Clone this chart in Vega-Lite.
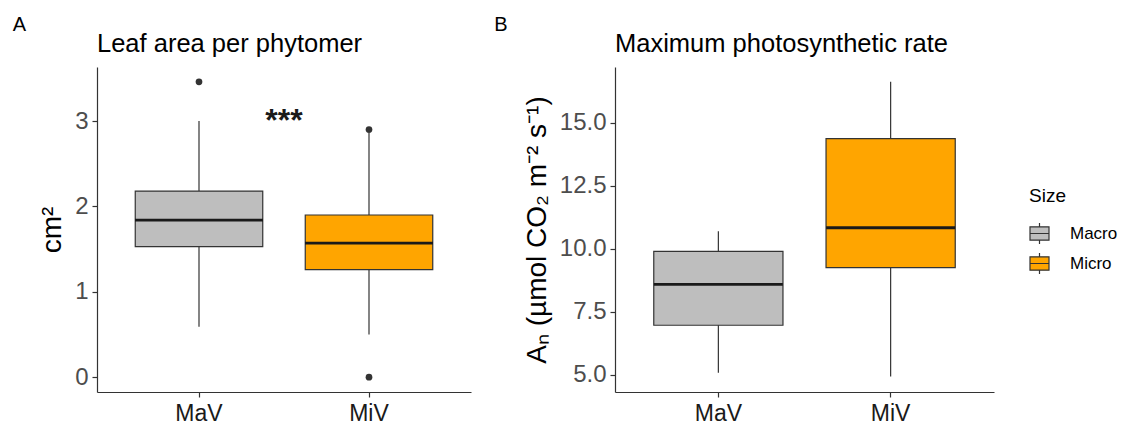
{
  "$schema": "https://vega.github.io/schema/vega-lite/v6.json",
  "background": "white",
  "padding": {"left": 12, "top": 14, "right": 0, "bottom": 0},
  "config": {
    "font": "Liberation Sans",
    "view": {"stroke": null},
    "axis": {"grid": false, "domainColor": "#333333", "tickColor": "#333333", "domainWidth": 1.2, "tickWidth": 1.2, "tickSize": 5, "labelColor": "#4D4D4D", "titleColor": "#000000", "titleFontWeight": "normal"},
    "title": {"fontWeight": "normal", "color": "#000000", "anchor": "start"},
    "concat": {"spacing": 23}
  },
  "datasets": {
    "leafBox": [
      {"Group": "MaV", "Size": "Macro", "lower": 0.59, "q1": 1.53, "median": 1.84, "q3": 2.18, "upper": 3.0},
      {"Group": "MiV", "Size": "Micro", "lower": 0.5, "q1": 1.26, "median": 1.57, "q3": 1.9, "upper": 2.86}
    ],
    "leafOut": [
      {"Group": "MaV", "value": 3.46},
      {"Group": "MiV", "value": 2.9},
      {"Group": "MiV", "value": 0.0}
    ],
    "star": [{"pos": 1.5, "value": 3.06, "label": "***"}],
    "photoBox": [
      {"Group": "MaV", "Size": "Macro", "lower": 5.07, "q1": 6.96, "median": 8.58, "q3": 9.89, "upper": 10.69},
      {"Group": "MiV", "Size": "Micro", "lower": 4.93, "q1": 9.25, "median": 10.83, "q3": 14.37, "upper": 16.62}
    ]
  },
  "resolve": {"scale": {"fill": "shared"}, "legend": {"fill": "shared"}},
  "hconcat": [
    {
      "title": {"text": "A", "fontSize": 20, "frame": "bounds", "dx": -26, "dy": 7, "offset": 4},
      "vconcat": [
        {
          "width": 374,
          "height": 325,
          "title": {"text": "Leaf area per phytomer", "fontSize": 25.5, "offset": 10, "frame": "group"},
          "resolve": {"scale": {"x": "independent"}},
          "layer": [
            {
              "encoding": {
                "x": {"field": "Group", "type": "nominal", "sort": ["MaV", "MiV"],
                      "scale": {"paddingInner": 0.25, "paddingOuter": 0.225},
                      "axis": {"title": null, "labelAngle": 0, "labelFontSize": 23, "labelColor": "#1a1a1a", "labelPadding": 5}}
              },
              "layer": [
                {
                  "data": {"name": "leafBox"},
                  "mark": {"type": "rule", "color": "#333333", "strokeWidth": 1.2},
                  "encoding": {
                    "y": {"field": "lower", "type": "quantitative",
                          "scale": {"domain": [-0.173, 3.633], "nice": false, "zero": false},
                          "axis": {"values": [0, 1, 2, 3], "format": "d", "title": "cm²", "titleFontSize": 28, "labelFontSize": 24, "titlePadding": 8, "labelPadding": 4}},
                    "y2": {"field": "upper"}
                  }
                },
                {
                  "data": {"name": "leafBox"},
                  "mark": {"type": "bar", "stroke": "#333333", "strokeWidth": 1.2},
                  "encoding": {
                    "y": {"field": "q1", "type": "quantitative"},
                    "y2": {"field": "q3"},
                    "fill": {"field": "Size", "type": "nominal",
                             "scale": {"domain": ["Macro", "Micro"], "range": ["#BEBEBE", "#FFA500"]},
                             "legend": {"title": "Size", "orient": "none", "legendX": 932, "legendY": 120,
                                        "titleFontSize": 19, "titleFontWeight": "normal", "titleColor": "#000000",
                                        "labelFontSize": 17, "labelColor": "#000000", "labelOffset": 20, "rowPadding": 3, "titlePadding": 17,
                                        "symbolType": "M-1,-0.7H1V0.7H-1Z M-1,0H1 M0,-0.7V-1.1 M0,0.7V1.1",
                                        "symbolSize": 361, "symbolStrokeColor": "#333333", "symbolStrokeWidth": 1.2}}
                  }
                },
                {
                  "data": {"name": "leafBox"},
                  "mark": {"type": "tick", "color": "#1a1a1a", "thickness": 2.8, "size": 128, "opacity": 1},
                  "encoding": {"y": {"field": "median", "type": "quantitative"}}
                },
                {
                  "data": {"name": "leafOut"},
                  "mark": {"type": "circle", "color": "#333333", "size": 45, "opacity": 1},
                  "encoding": {"y": {"field": "value", "type": "quantitative"}}
                }
              ]
            },
            {
              "data": {"name": "star"},
              "mark": {"type": "text", "fontSize": 32, "fontWeight": "bold", "color": "#1a1a1a", "baseline": "middle", "dy": 5},
              "encoding": {
                "x": {"field": "pos", "type": "quantitative", "scale": {"domain": [0.4, 2.6], "nice": false, "zero": false}, "axis": null},
                "y": {"field": "value", "type": "quantitative"},
                "text": {"field": "label"}
              }
            }
          ]
        }
      ]
    },
    {
      "title": {"text": "B", "fontSize": 20, "frame": "bounds", "dx": -29, "dy": 7, "offset": 4},
      "vconcat": [
        {
          "width": 379,
          "height": 325,
          "title": {"text": "Maximum photosynthetic rate", "fontSize": 25.5, "offset": 10, "frame": "group"},
          "encoding": {
            "x": {"field": "Group", "type": "nominal", "sort": ["MaV", "MiV"],
                  "scale": {"paddingInner": 0.25, "paddingOuter": 0.225},
                  "axis": {"title": null, "labelAngle": 0, "labelFontSize": 23, "labelColor": "#1a1a1a", "labelPadding": 5}}
          },
          "layer": [
            {
              "data": {"name": "photoBox"},
              "mark": {"type": "rule", "color": "#333333", "strokeWidth": 1.2},
              "encoding": {
                "y": {"field": "lower", "type": "quantitative",
                      "scale": {"domain": [4.31, 17.21], "nice": false, "zero": false},
                      "axis": {"values": [5, 7.5, 10, 12.5, 15], "format": ".1f", "title": "Aₙ (µmol CO₂ m⁻² s⁻¹)", "titleFontSize": 28, "labelFontSize": 24, "titlePadding": 8, "labelPadding": 4}},
                "y2": {"field": "upper"}
              }
            },
            {
              "data": {"name": "photoBox"},
              "mark": {"type": "bar", "stroke": "#333333", "strokeWidth": 1.2},
              "encoding": {
                "y": {"field": "q1", "type": "quantitative"},
                "y2": {"field": "q3"},
                "fill": {"field": "Size", "type": "nominal",
                         "scale": {"domain": ["Macro", "Micro"], "range": ["#BEBEBE", "#FFA500"]},
                         "legend": {"title": "Size", "orient": "none", "legendX": 932, "legendY": 120,
                                    "titleFontSize": 19, "titleFontWeight": "normal", "titleColor": "#000000",
                                    "labelFontSize": 17, "labelColor": "#000000", "labelOffset": 20, "rowPadding": 3, "titlePadding": 17,
                                    "symbolType": "M-1,-0.7H1V0.7H-1Z M-1,0H1 M0,-0.7V-1.1 M0,0.7V1.1",
                                    "symbolSize": 361, "symbolStrokeColor": "#333333", "symbolStrokeWidth": 1.2}}
              }
            },
            {
              "data": {"name": "photoBox"},
              "mark": {"type": "tick", "color": "#1a1a1a", "thickness": 2.8, "size": 129, "opacity": 1},
              "encoding": {"y": {"field": "median", "type": "quantitative"}}
            }
          ]
        }
      ]
    }
  ]
}
